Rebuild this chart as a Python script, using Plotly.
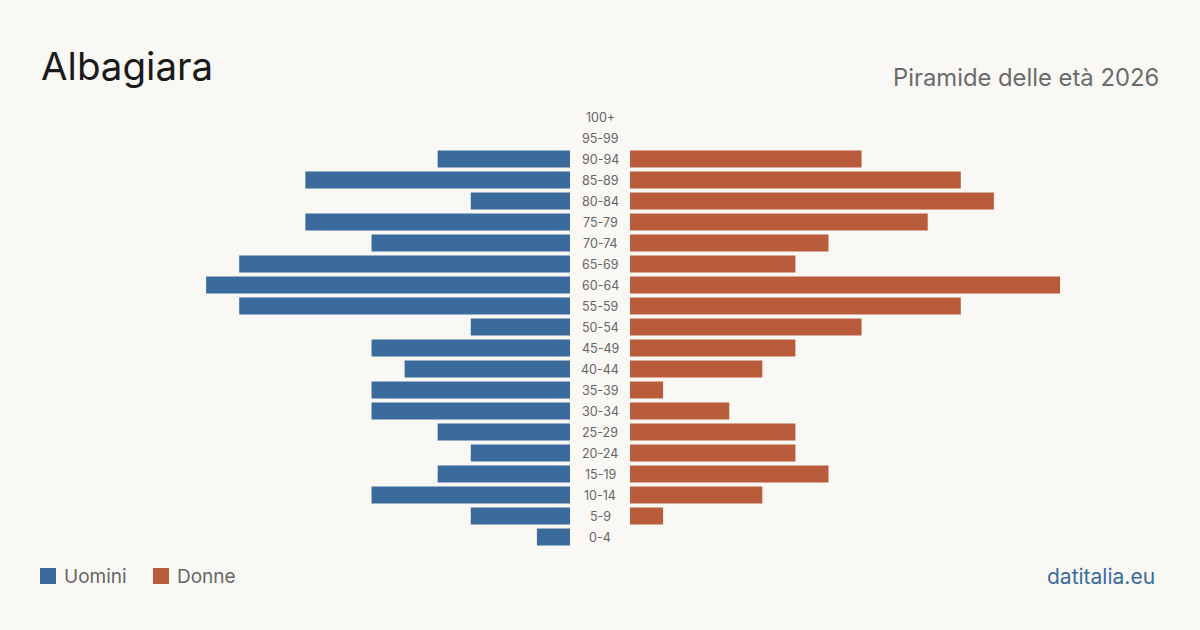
import plotly.graph_objects as go

age_groups = ["0-4", "5-9", "10-14", "15-19", "20-24", "25-29", "30-34", "35-39",
              "40-44", "45-49", "50-54", "55-59", "60-64", "65-69", "70-74",
              "75-79", "80-84", "85-89", "90-94", "95-99", "100+"]
men = [1, 3, 6, 4, 3, 4, 6, 6, 5, 6, 3, 10, 11, 10, 6, 8, 3, 8, 4, 0, 0]
women = [0, 1, 4, 6, 5, 5, 3, 1, 4, 5, 7, 10, 13, 5, 6, 9, 11, 10, 7, 0, 0]

title = "Albagiara"
subtitle = "Piramide delle età 2026"
source = "datitalia.eu"
men_label = "Uomini"
women_label = "Donne"

BLUE = "#3a6b9c"
ORANGE = "#b95c3c"
BG = "#f9f8f4"
W, H = 1200, 630
XMAX = 530 / 33.08

fig = go.Figure()
fig.add_trace(go.Bar(y=age_groups, x=men, orientation="h", marker_color=BLUE,
                     marker_line_width=0,
                     xaxis="x", yaxis="y", name=men_label, showlegend=False,
                     hoverinfo="x+y"))
fig.add_trace(go.Bar(y=age_groups, x=women, orientation="h", marker_color=ORANGE,
                     marker_line_width=0,
                     xaxis="x2", yaxis="y", name=women_label, showlegend=False,
                     hoverinfo="x+y"))

ydom = [1 - 547.5 / H, 1 - 106.5 / H]
fig.update_layout(
    width=W, height=H,
    margin=dict(l=0, r=0, t=0, b=0),
    paper_bgcolor=BG, plot_bgcolor="rgba(0,0,0,0)",
    bargap=4 / 21,
    font=dict(family="Inter, sans-serif", color="#666"),
    xaxis=dict(domain=[40 / W, 570 / W], range=[XMAX, 0], visible=False, fixedrange=True,
               showgrid=False, zeroline=False),
    xaxis2=dict(domain=[630 / W, 1160 / W], range=[0, XMAX], visible=False, fixedrange=True,
                showgrid=False, zeroline=False),
    yaxis=dict(domain=ydom, visible=False, categoryorder="array",
               categoryarray=age_groups, fixedrange=True, showgrid=False, zeroline=False),
    showlegend=False,
)

ann = []
for g in age_groups:
    ann.append(dict(x=0.5, xref="paper", y=g, yref="y", text=g, showarrow=False,
                    xanchor="center", yanchor="middle",
                    font=dict(size=12.5, color="#666", family="Inter, sans-serif")))

ann.append(dict(x=39 / W, y=1 - 66 / H, xref="paper", yref="paper", text=title,
                showarrow=False, xanchor="left", yanchor="middle",
                font=dict(size=38.5, color="#1a1a1a", family="Inter, sans-serif")))
ann.append(dict(x=1161 / W, y=1 - 77 / H, xref="paper", yref="paper", text=subtitle,
                showarrow=False, xanchor="right", yanchor="middle",
                font=dict(size=23.8, color="#6b6b6b", family="Inter, sans-serif")))
ann.append(dict(x=1157 / W, y=1 - 576 / H, xref="paper", yref="paper", text=source,
                showarrow=False, xanchor="right", yanchor="middle",
                font=dict(size=21, color=BLUE, family="Inter, sans-serif")))
ann.append(dict(x=62 / W, y=1 - 576 / H, xref="paper", yref="paper", text=men_label,
                showarrow=False, xanchor="left", yanchor="middle",
                font=dict(size=19, color="#666", family="Inter, sans-serif")))
ann.append(dict(x=175 / W, y=1 - 576 / H, xref="paper", yref="paper", text=women_label,
                showarrow=False, xanchor="left", yanchor="middle",
                font=dict(size=19, color="#666", family="Inter, sans-serif")))

shapes = [
    dict(type="rect", xref="paper", yref="paper", x0=40 / W, x1=56 / W,
         y0=1 - 584 / H, y1=1 - 568 / H, fillcolor=BLUE, line=dict(width=0)),
    dict(type="rect", xref="paper", yref="paper", x0=153 / W, x1=169 / W,
         y0=1 - 584 / H, y1=1 - 568 / H, fillcolor=ORANGE, line=dict(width=0)),
]
fig.update_layout(annotations=ann, shapes=shapes)
fig.write_html("out.html")
